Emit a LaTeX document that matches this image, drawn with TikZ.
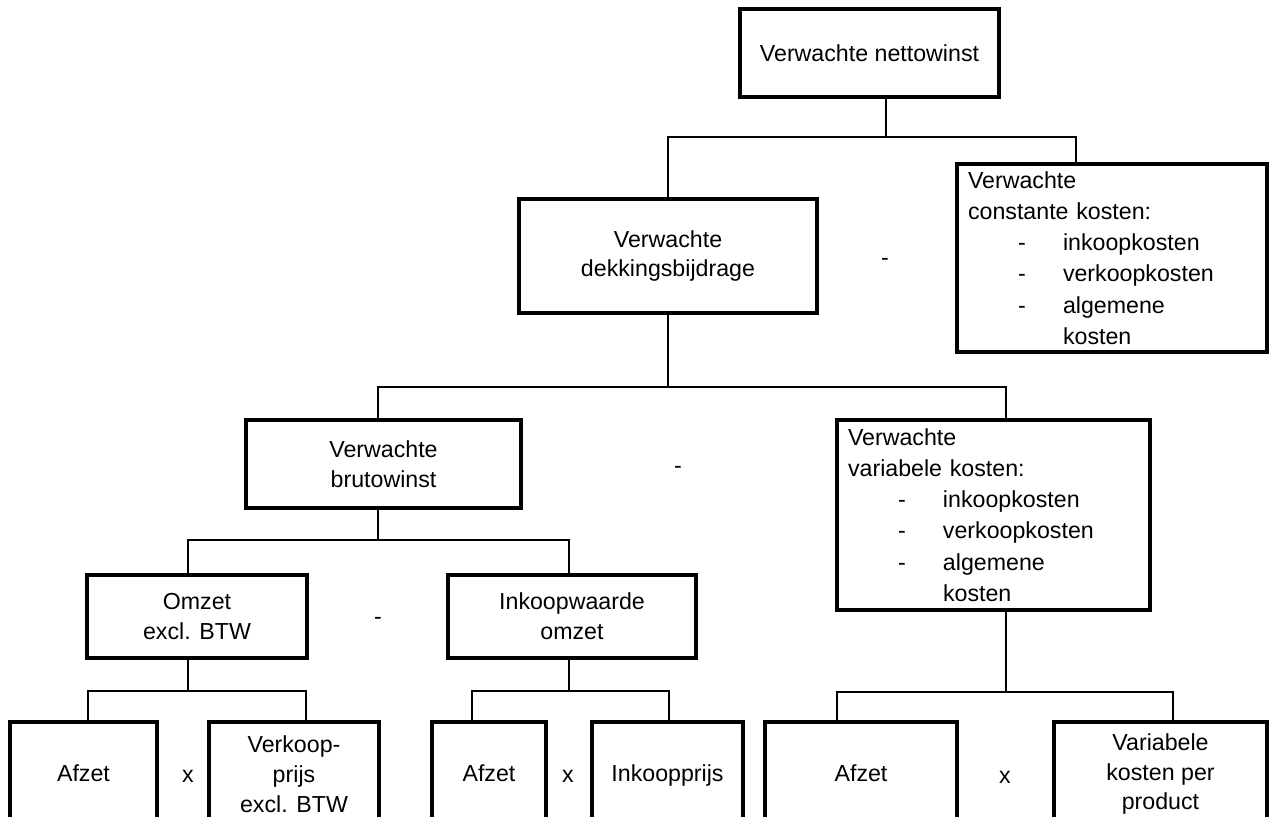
\documentclass[tikz,border=0pt]{standalone}
\usepackage{fontspec}
\setmainfont{Liberation Sans}
\newcommand{\kostpost}[1]{\makebox[1.9cm][l]{\hspace*{1cm}-}#1}

\begin{document}
\begin{tikzpicture}[x=0.02cm,y=-0.02cm,
  blok/.style={draw,line width=2.3pt,align=center,inner sep=0pt,
    font=\fontsize{13.2}{17}\selectfont},
  enkel/.style={blok,text height=12pt,text depth=3pt},
  lijst/.style={blok,align=left,inner xsep=0.22cm,
    font=\fontsize{13.2}{17.8}\selectfont},
  lijn/.style={line width=1.1pt},
  teken/.style={font=\fontsize{13.2}{16}\selectfont}]
 \useasboundingbox (0,0) rectangle (1274,816);
 \clip (0,0) rectangle (1274,816);

 \node[blok,minimum width=5.18cm,minimum height=1.76cm] (netto) at (869.5,53) {Verwachte nettowinst};
 \node[blok,minimum width=5.96cm,minimum height=2.28cm] (dek) at (668,256) {Verwachte\\dekkingsbijdrage};
 \node[lijst,text width=5.76cm,minimum height=3.76cm] (cst) at (1112,258)
  {Verwachte\\constante kosten:\\\kostpost{inkoopkosten}\\\kostpost{verkoopkosten}\\\kostpost{algemene}\\\hspace*{1.9cm}kosten};

 \node[blok,minimum width=5.5cm,minimum height=1.76cm] (bruto) at (383.5,464) {Verwachte\\brutowinst};
 \node[lijst,text width=5.82cm,minimum height=3.8cm] (var) at (993.5,515)
  {Verwachte\\variabele kosten:\\\kostpost{inkoopkosten}\\\kostpost{verkoopkosten}\\\kostpost{algemene}\\\hspace*{1.9cm}kosten};

 \node[blok,minimum width=4.4cm,minimum height=1.66cm] (omzet) at (197,616.5) {Omzet\\excl. BTW};
 \node[blok,minimum width=4.96cm,minimum height=1.66cm] (inkw) at (572,616.5) {Inkoopwaarde\\omzet};

 \node[enkel,minimum width=2.94cm,minimum height=2.08cm] (afzet1) at (83.5,774) {Afzet};
 \node[blok,minimum width=3.4cm,minimum height=2.08cm] (verkoop) at (294,774) {Verkoop-\\prijs\\excl. BTW};
 \node[enkel,minimum width=2.28cm,minimum height=2.08cm] (afzet2) at (489,774) {Afzet};
 \node[enkel,minimum width=3.02cm,minimum height=2.08cm] (inkp) at (667.5,774) {Inkoopprijs};
 \node[enkel,minimum width=3.84cm,minimum height=2.08cm] (afzet3) at (861,774) {Afzet};
 \node[blok,minimum width=4.26cm,minimum height=2.08cm] (varkp) at (1160.5,774) {Variabele\\kosten per\\product};

 % min- en maaltekens
 \node[teken] (min1) at (885,262) {-};
 \node[teken] (min2) at (678,470) {-};
 \node[teken] (min3) at (378,621) {-};
 \node[teken,anchor=base] (keer1) at (188,782) {x};
 \node[teken,anchor=base] (keer2) at (568,782) {x};
 \node[teken,anchor=base] (keer3) at (1005,783) {x};

 % knooppunten van de verbindingslijnen
 \coordinate (v1) at (886,137);  \coordinate (l1) at (668,137);  \coordinate (r1) at (1076,137);
 \coordinate (v2) at (668,387);  \coordinate (l2) at (378,387);  \coordinate (r2) at (1006,387);
 \coordinate (v3) at (378,540);  \coordinate (l3) at (188,540);  \coordinate (r3) at (569,540);
 \coordinate (v4) at (188,691);  \coordinate (l4) at (88,691);   \coordinate (r4) at (306,691);
 \coordinate (v5) at (569,691);  \coordinate (l5) at (472,691);  \coordinate (r5) at (669,691);
 \coordinate (v6) at (1006,692); \coordinate (l6) at (837,692);  \coordinate (r6) at (1173,692);

 \draw[lijn] (v1 |- netto.south) -- (v1);
 \draw[lijn] (l1 |- dek.north) -- (l1) -- (r1) -- (r1 |- cst.north);

 \draw[lijn] (v2 |- dek.south) -- (v2);
 \draw[lijn] (l2 |- bruto.north) -- (l2) -- (r2) -- (r2 |- var.north);

 \draw[lijn] (v3 |- bruto.south) -- (v3);
 \draw[lijn] (l3 |- omzet.north) -- (l3) -- (r3) -- (r3 |- inkw.north);

 \draw[lijn] (v4 |- omzet.south) -- (v4);
 \draw[lijn] (l4 |- afzet1.north) -- (l4) -- (r4) -- (r4 |- verkoop.north);

 \draw[lijn] (v5 |- inkw.south) -- (v5);
 \draw[lijn] (l5 |- afzet2.north) -- (l5) -- (r5) -- (r5 |- inkp.north);

 \draw[lijn] (v6 |- var.south) -- (v6);
 \draw[lijn] (l6 |- afzet3.north) -- (l6) -- (r6) -- (r6 |- varkp.north);

\end{tikzpicture}
\end{document}
